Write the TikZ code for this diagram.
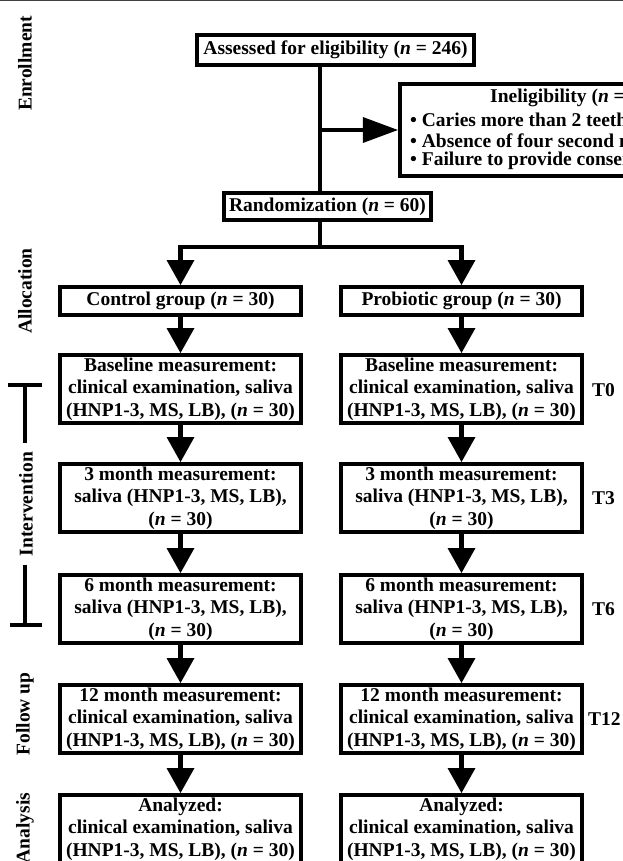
\documentclass[tikz,border=0pt]{standalone}
\usepackage{fontspec}
\setmainfont{Liberation Serif}
\usetikzlibrary{arrows.meta}
\begin{document}
\begin{tikzpicture}[x=1pt,y=-1pt,
  every node/.style={font=\fontsize{19.5}{22.5}\selectfont\bfseries, inner sep=0pt},
  box/.style={draw, line width=4.3pt, rectangle, align=center, minimum height=67.7pt, minimum width=241pt},
  conn/.style={line width=4.3pt},
  arr/.style={conn, -{Triangle[length=25pt,width=28pt,line width=0pt]}},
  harr/.style={conn, -{Triangle[length=35pt,width=26pt,line width=0pt]}},
  lab/.style={rotate=90},
  tlab/.style={anchor=west}]
\useasboundingbox (0,0) rectangle (623,861);
\clip (0,0) rectangle (623,861);

% top rule
\draw[line width=1.5pt, black!75] (0,0.75) -- (623,0.75);

% phase labels
\node[lab] (lenr) at (25,63.5) {Enrollment};
\node[lab] (lall) at (25,291) {Allocation};
\node[lab] (lint) at (26,504) {Intervention};
\node[lab] (lfol) at (25,714) {Follow up};
\node[lab] (lana) at (25,828) {Analysis};

% intervention bracket
\draw[conn] (8,385) -- (42,385);
\draw[conn] (25,385) -- (25,443);
\draw[conn] (25,565) -- (25,625);
\draw[conn] (10,625) -- (42,625);

% enrollment
\node[box, minimum width=276.7pt, minimum height=29.7pt] (assess) at (335.5,50) {Assessed for eligibility (\textit{n} = 246)};
\node[box, minimum width=398pt, minimum height=91.7pt] (inel) at (599,130) {};
\node[anchor=west] (ineltitle) at (490,98) {Ineligibility (\textit{n} = 186)};
\node[anchor=west] (inela) at (410,120) {• Caries more than 2 teeth};
\node[anchor=west] (inelb) at (410,140.5) {• Absence of four second molars};
\node[anchor=west] (inelc) at (410,161) {• Failure to provide consent};
\node[box, minimum width=206.7pt, minimum height=26.7pt] (rand) at (327.5,206.5) {Randomization (\textit{n} = 60)};

% allocation
\node[box, minimum height=27.7pt] (ctrl) at (180.5,301) {Control group (\textit{n} = 30)};
\node[box, minimum height=27.7pt] (prob) at (461.5,301) {Probiotic group (\textit{n} = 30)};

% measurements
\node[box] (c0) at (180.5,389) {Baseline measurement:\\clinical examination, saliva\\(HNP1-3, MS, LB), (\textit{n} = 30)};
\node[box] (p0) at (461.5,389) {Baseline measurement:\\clinical examination, saliva\\(HNP1-3, MS, LB), (\textit{n} = 30)};
\node[box] (c3) at (180.5,498) {3 month measurement:\\saliva (HNP1-3, MS, LB),\\(\textit{n} = 30)};
\node[box] (p3) at (461.5,498) {3 month measurement:\\saliva (HNP1-3, MS, LB),\\(\textit{n} = 30)};
\node[box] (c6) at (180.5,609) {6 month measurement:\\saliva (HNP1-3, MS, LB),\\(\textit{n} = 30)};
\node[box] (p6) at (461.5,609) {6 month measurement:\\saliva (HNP1-3, MS, LB),\\(\textit{n} = 30)};
\node[box] (c12) at (180.5,719) {12 month measurement:\\clinical examination, saliva\\(HNP1-3, MS, LB), (\textit{n} = 30)};
\node[box] (p12) at (461.5,719) {12 month measurement:\\clinical examination, saliva\\(HNP1-3, MS, LB), (\textit{n} = 30)};
\node[box] (ca) at (180.5,829) {Analyzed:\\clinical examination, saliva\\(HNP1-3, MS, LB), (\textit{n} = 30)};
\node[box] (pa) at (461.5,829) {Analyzed:\\clinical examination, saliva\\(HNP1-3, MS, LB), (\textit{n} = 30)};

% time labels
\node[tlab] (t0) at (592,390) {T0};
\node[tlab] (t3) at (592,498) {T3};
\node[tlab] (t6) at (592,609) {T6};
\node[tlab] (t12) at (588,719) {T12};

% connectors
\coordinate (tk) at (320,0);
\coordinate (split) at (320,247);
\draw[conn] (assess.south -| tk) -- (rand.north -| tk);
\draw[harr] (tk |- inel.west) -- (inel.west);
\draw[conn] (rand.south -| tk) -- (split);
\draw[arr] (split) -| (ctrl.north);
\draw[arr] (split) -| (prob.north);
\draw[arr] (ctrl.south) -- (c0.north);
\draw[arr] (prob.south) -- (p0.north);
\draw[arr] (c0.south) -- (c3.north);
\draw[arr] (p0.south) -- (p3.north);
\draw[arr] (c3.south) -- (c6.north);
\draw[arr] (p3.south) -- (p6.north);
\draw[arr] (c6.south) -- (c12.north);
\draw[arr] (p6.south) -- (p12.north);
\draw[arr] (c12.south) -- (ca.north);
\draw[arr] (p12.south) -- (pa.north);
\end{tikzpicture}
\end{document}
